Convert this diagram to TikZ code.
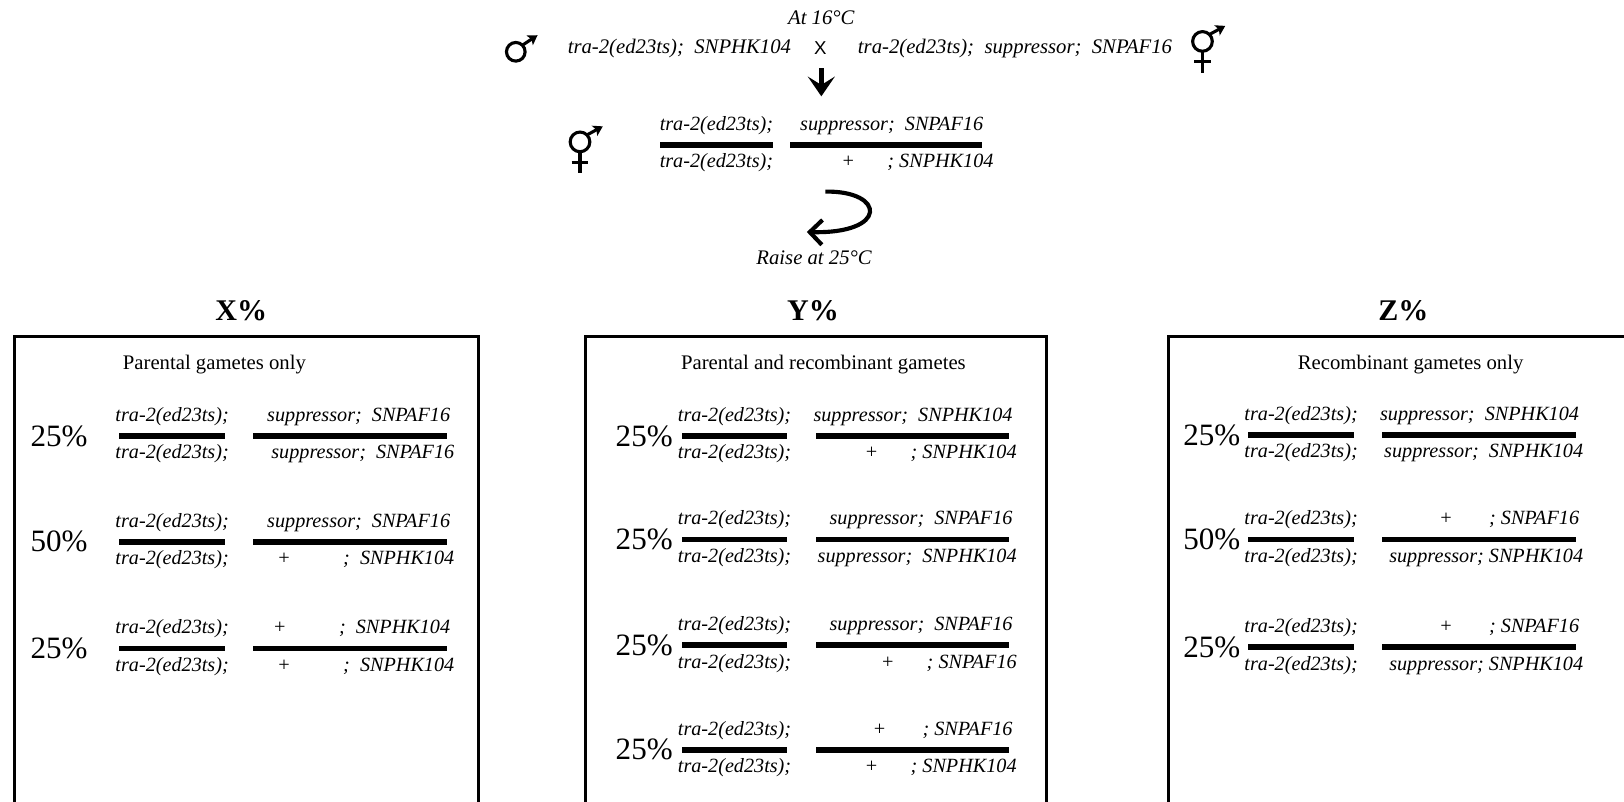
\documentclass[tikz,border=0pt]{standalone}
\usepackage{fontspec}
\setmainfont{Liberation Serif}
\setsansfont{Liberation Sans}
\usetikzlibrary{positioning,calc,arrows.meta}

\tikzset{
  gt/.style={font=\fontsize{19.5}{20}\selectfont\itshape, inner sep=1pt, text height=14pt, text depth=5pt},
  bar/.style={fill=black, inner sep=0pt, minimum height=5.5pt},
  barL/.style={bar, minimum width=102pt, anchor=west},
  barR/.style={bar, minimum width=187pt},
  pct/.style={font=\fontsize{30}{32}\selectfont},
  head/.style={font=\fontsize{29}{30}\selectfont\bfseries},
  title/.style={font=\fontsize{20}{22}\selectfont},
  note/.style={font=\fontsize{20}{22}\selectfont\itshape},
  box/.style={draw, line width=3pt},
  sym/.style={line width=3pt},
  male/.pic={
    \draw[sym] (0,0) circle (9);
    \draw[sym, -{Stealth[length=9pt, width=11pt, inset=2pt]}] (45:9) -- (21,16);
  },
  herm/.pic={
    \draw[sym] (0,0) circle (9.5);
    \draw[sym, -{Stealth[length=9pt, width=11pt, inset=2pt]}] (45:9.5) -- (22,15);
    \draw[sym] (0,-9.5) -- (0,-30);
    \draw[sym] (-8,-19.5) -- (8,-19.5);
  }
}

% one genotype: name, pct x, bar x, bar y, pct, top left, top right, bottom left, bottom right
\newcommand{\genorow}[9]{%
  \node[barL] (#1a) at (#3,#4) {};
  \node[barR, right=27pt of #1a] (#1b) {};
  \node[pct] (#1p) at (#2,#4) {#5};
  \node[gt, above=5pt of #1a] (#1ta) {#6};
  \node[gt, anchor=south east] (#1tb) at ($(#1b.north east)+(4,5)$) {#7};
  \node[gt, below=4pt of #1a] (#1ba) {#8};
  \node[gt, anchor=north east] (#1bb) at ($(#1b.south east)+(8,-4)$) {#9};
}

\begin{document}
\begin{tikzpicture}[x=1pt, y=1pt]
  \useasboundingbox (0,-774) rectangle (1568,0);
  \clip (0,-774) rectangle (1568,0);

  % Cross at 16 C
  \node[note] (temp1) at (793,-17) {At 16°C};
  \pic at (498,-50) {male};
  \node[gt, font=\fontsize{20}{22}\selectfont\itshape] (pmale) at (656,-47) {tra-2(ed23ts);\ \ SNPHK104};
  \node[font=\fontsize{18}{20}\selectfont\sffamily] (cross) at (792,-46) {X};
  \node[gt, font=\fontsize{20}{22}\selectfont\itshape] (pherm) at (980,-47) {tra-2(ed23ts);\ \ suppressor;\ \ SNPAF16};
  \pic at (1161,-40) {herm};

  \coordinate (down1) at (793,-66);
  \coordinate (down2) at (793,-93);
  \draw[line width=4.5pt, -{Stealth[length=19pt, width=26pt, inset=8pt]}] (down1) -- (down2);

  % F1 hermaphrodite
  \pic at (560,-137) {herm};
  \node[bar, minimum width=109pt, anchor=west] (fa) at (637,-140) {};
  \node[bar, minimum width=185pt, anchor=west] (fb) at (763,-140) {};
  \node[gt, above=5pt of fa] (fta) {tra-2(ed23ts);};
  \node[gt, anchor=south east] (ftb) at ($(fb.north east)+(2,5)$) {suppressor;\ \ SNPAF16};
  \node[gt, below=4pt of fa] (fba) {tra-2(ed23ts);};
  \node[gt, anchor=north east] (fbb) at ($(fb.south east)+(12,-4)$) {+\hspace{1.6em}; SNPHK104};

  \coordinate (turn1) at (797,-185);
  \coordinate (turn2) at (779,-224);
  \draw[line width=4pt, -{Straight Barb[length=12pt, width=24pt]}] (turn1) .. controls (855,-184) and (858,-226) .. (turn2);
  \node[note] (temp2) at (786,-249) {Raise at 25°C};

  % Outcome headings and boxes
  \node[head] (hx) at (233,-300) {X\%};
  \node[head] (hy) at (785,-300) {Y\%};
  \node[head] (hz) at (1355,-300) {Z\%};
  \draw[box] (14,-325) rectangle (462,-800);
  \draw[box] (565,-325) rectangle (1010,-800);
  \draw[box] (1128,-325) rectangle (1600,-800);
  \node[title] (tx) at (207,-352) {Parental gametes only};
  \node[title] (ty) at (795,-352) {Parental and recombinant gametes};
  \node[title] (tz) at (1362,-352) {Recombinant gametes only};

  % X%
  \genorow{xa}{57}{115}{-421}{25\%}{tra-2(ed23ts);}{suppressor;\ \ SNPAF16}{tra-2(ed23ts);}{suppressor;\ \ SNPAF16}
  \genorow{xb}{57}{115}{-523}{50\%}{tra-2(ed23ts);}{suppressor;\ \ SNPAF16}{tra-2(ed23ts);}{+\hspace{2.6em}; \ SNPHK104}
  \genorow{xc}{57}{115}{-626}{25\%}{tra-2(ed23ts);}{+\hspace{2.6em}; \ SNPHK104}{tra-2(ed23ts);}{+\hspace{2.6em}; \ SNPHK104}

  % Y%
  \genorow{ya}{622}{658}{-421}{25\%}{tra-2(ed23ts);}{suppressor;\ \ SNPHK104}{tra-2(ed23ts);}{+\hspace{1.6em}; SNPHK104}
  \genorow{yb}{622}{658}{-521}{25\%}{tra-2(ed23ts);}{suppressor;\ \ SNPAF16}{tra-2(ed23ts);}{suppressor;\ \ SNPHK104}
  \genorow{yc}{622}{658}{-623}{25\%}{tra-2(ed23ts);}{suppressor;\ \ SNPAF16}{tra-2(ed23ts);}{+\hspace{1.6em}; SNPAF16}
  \genorow{yd}{622}{658}{-724}{25\%}{tra-2(ed23ts);}{+\hspace{1.8em}; SNPAF16}{tra-2(ed23ts);}{+\hspace{1.6em}; SNPHK104}

  % Z%
  \genorow{za}{1170}{1205}{-420}{25\%}{tra-2(ed23ts);}{suppressor;\ \ SNPHK104}{tra-2(ed23ts);}{suppressor;\ \ SNPHK104}
  \genorow{zb}{1170}{1205}{-521}{50\%}{tra-2(ed23ts);}{+\hspace{1.8em}; SNPAF16}{tra-2(ed23ts);}{suppressor; SNPHK104}
  \genorow{zc}{1170}{1205}{-625}{25\%}{tra-2(ed23ts);}{+\hspace{1.8em}; SNPAF16}{tra-2(ed23ts);}{suppressor; SNPHK104}
\end{tikzpicture}
\end{document}
